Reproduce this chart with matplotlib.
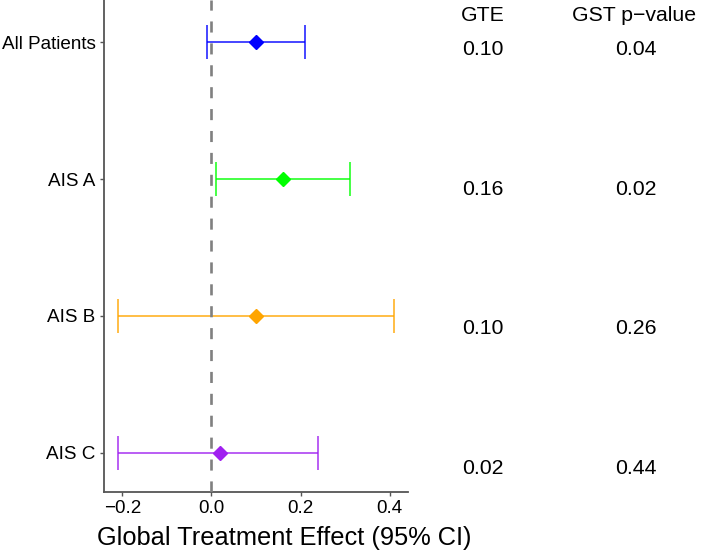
"""
Forest plot: global treatment effect by subgroup, with a GTE / p-value table.
"""

import numpy as np
import matplotlib
matplotlib.use("Agg")
import matplotlib.pyplot as plt

plt.rcParams['font.family'] = ['Liberation Sans', 'DejaVu Sans']

# data
groups = ["All Patients", "AIS A", "AIS B", "AIS C"]
estimate = [0.10, 0.16, 0.10, 0.02]
ci_low = [-0.01, 0.01, -0.21, -0.21]
ci_high = [0.21, 0.31, 0.41, 0.24]
colors = ["#0000FF", "#00FF00", "#FFA500", "#A020F0"]
gte_text = ["0.10", "0.16", "0.10", "0.02"]
pval_text = ["0.04", "0.02", "0.26", "0.44"]
xticks = [-0.2, 0.0, 0.2, 0.4]

W, H = 715, 552
fig = plt.figure(figsize=(W / 100, H / 100), dpi=100)

# main panel
ax = fig.add_axes([104 / W, (H - 492) / H, (408 - 104) / W, 492 / H])
rows = np.arange(1, len(groups) + 1)

for r, est, lo, hi, c in zip(rows, estimate, ci_low, ci_high, colors):
    ax.errorbar(est, r, xerr=[[est - lo], [hi - est]], fmt='none',
                ecolor=c, elinewidth=1.2, capsize=11.9, capthick=1.2,
                alpha=0.85, zorder=2)
    ax.plot(est, r, marker='D', color=c, markersize=6.8, linestyle='none', zorder=4)

ax.axvline(0, color='#808080', lw=1.9, dashes=(4.2, 4.1), zorder=3)

ax.set_xlim(-0.241, 0.441)
ax.set_ylim(4.285, 0.693)
ax.set_yticks(rows)
ax.set_yticklabels(groups, fontsize=13.6, color='black')
ax.set_xticks(xticks)
ax.set_xticklabels([f"{v:.1f}".replace('-', '\u2212') for v in xticks],
                   fontsize=13.6, color='black')
ax.set_xlabel("Global Treatment Effect (95% CI)", fontsize=18.3)
ax.xaxis.set_label_coords((284 - 104) / (408 - 104), -0.070)

for side in ['top', 'right']:
    ax.spines[side].set_visible(False)
for side in ['left', 'bottom']:
    ax.spines[side].set_color('#555555')
    ax.spines[side].set_linewidth(1.3)
ax.tick_params(length=3, width=1.0, color='#555555', pad=3)

# table panel (own row scale, slightly wider spacing than the forest rows)
tab = fig.add_axes([0, 0, 1, 1], facecolor='none')
tab.set_xlim(0, W)
row_top, row_step = 49.5, 139.5
tab.set_ylim(1 + (H - row_top) / row_step, 1 - row_top / row_step)
tab.axis('off')

head_y = 1 - (row_top - 15) / row_step
tab.text(483, head_y, "GTE", ha='center', va='center', fontsize=15.3)
tab.text(634, head_y, "GST p\u2212value", ha='center', va='center', fontsize=15.3)
for r, g, p in zip(rows, gte_text, pval_text):
    tab.text(483, r, g, ha='center', va='center', fontsize=15.3)
    tab.text(636, r, p, ha='center', va='center', fontsize=15.3)

fig.savefig("out.png", dpi=100)
